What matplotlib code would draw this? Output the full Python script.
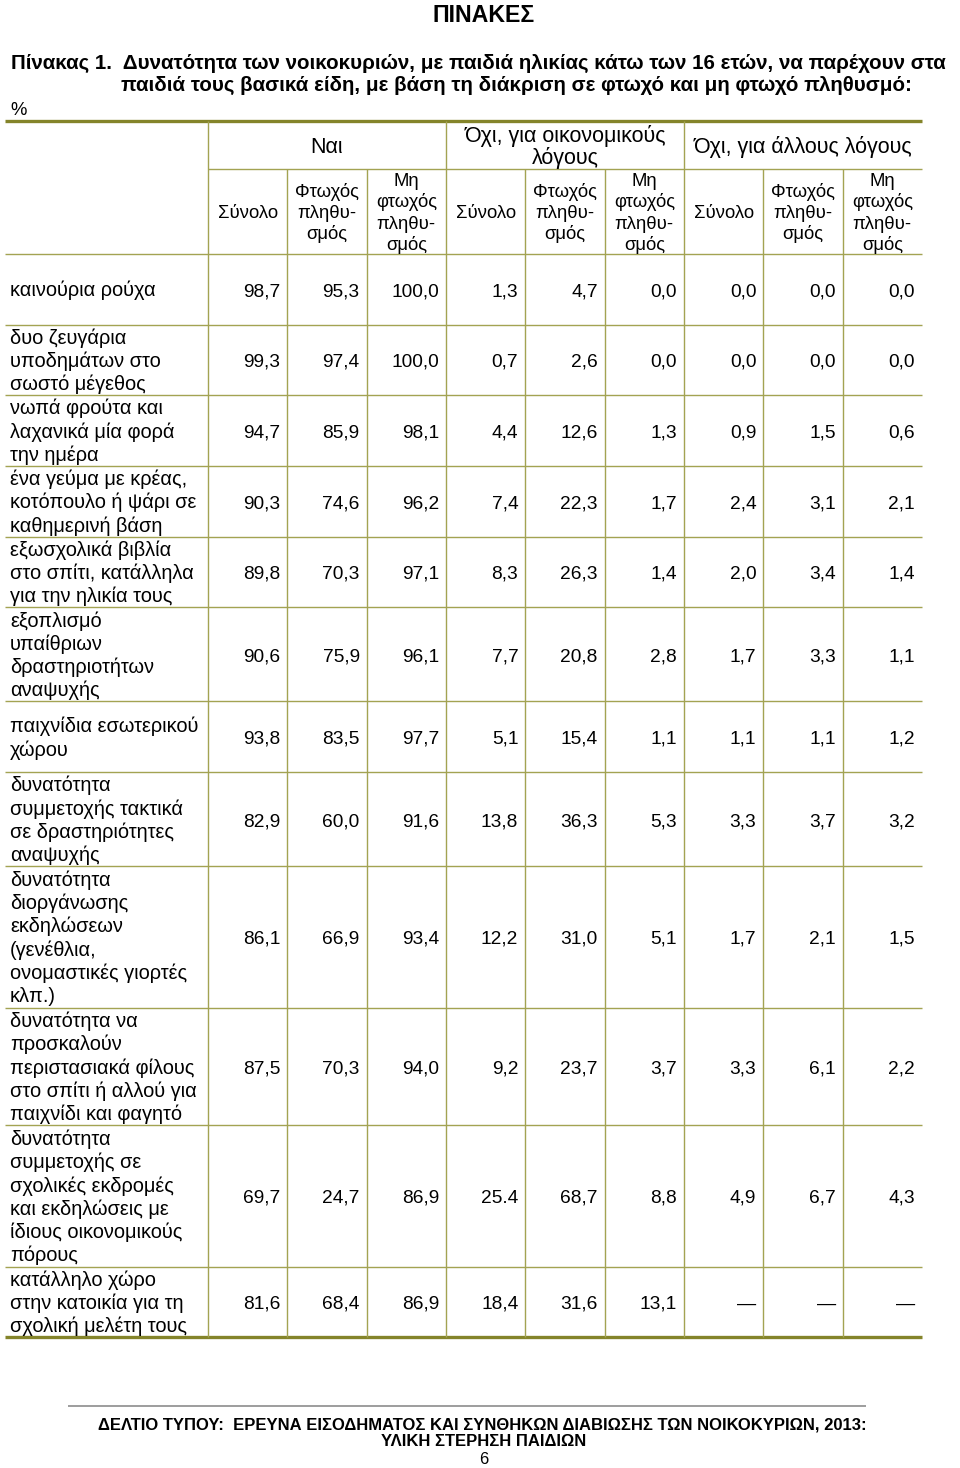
import matplotlib.pyplot as plt
from matplotlib import font_manager

plt.rcParams['font.family'] = ['Liberation Sans', 'DejaVu Sans']

page_title = 'ΠΙΝΑΚΕΣ'
table_title = ['Πίνακας 1.  Δυνατότητα των νοικοκυριών, με παιδιά ηλικίας κάτω των 16 ετών, να παρέχουν στα',
               'παιδιά τους βασικά είδη, με βάση τη διάκριση σε φτωχό και μη φτωχό πληθυσμό:']
unit = '%'
groups = ['Ναι', 'Όχι, για οικονομικούς\nλόγους', 'Όχι, για άλλους λόγους']
subcols = ['Σύνολο', 'Φτωχός\nπληθυ-\nσμός', 'Μη\nφτωχός\nπληθυ-\nσμός']

items = ['καινούρια ρούχα',
         'δυο ζευγάρια\nυποδημάτων στο\nσωστό μέγεθος',
         'νωπά φρούτα και\nλαχανικά μία φορά\nτην ημέρα',
         'ένα γεύμα με κρέας,\nκοτόπουλο ή ψάρι σε\nκαθημερινή βάση',
         'εξωσχολικά βιβλία\nστο σπίτι, κατάλληλα\nγια την ηλικία τους',
         'εξοπλισμό\nυπαίθριων\nδραστηριοτήτων\nαναψυχής',
         'παιχνίδια εσωτερικού\nχώρου',
         'δυνατότητα\nσυμμετοχής τακτικά\nσε δραστηριότητες\nαναψυχής',
         'δυνατότητα\nδιοργάνωσης\nεκδηλώσεων\n(γενέθλια,\nονομαστικές γιορτές\nκλπ.)',
         'δυνατότητα να\nπροσκαλούν\nπεριστασιακά φίλους\nστο σπίτι ή αλλού για\nπαιχνίδι και φαγητό',
         'δυνατότητα\nσυμμετοχής σε\nσχολικές εκδρομές\nκαι εκδηλώσεις με\nίδιους οικονομικούς\nπόρους',
         'κατάλληλο χώρο\nστην κατοικία για τη\nσχολική μελέτη τους']

yes_total = ['98,7', '99,3', '94,7', '90,3', '89,8', '90,6', '93,8', '82,9', '86,1', '87,5', '69,7', '81,6']
yes_poor = ['95,3', '97,4', '85,9', '74,6', '70,3', '75,9', '83,5', '60,0', '66,9', '70,3', '24,7', '68,4']
yes_nonpoor = ['100,0', '100,0', '98,1', '96,2', '97,1', '96,1', '97,7', '91,6', '93,4', '94,0', '86,9', '86,9']
econ_total = ['1,3', '0,7', '4,4', '7,4', '8,3', '7,7', '5,1', '13,8', '12,2', '9,2', '25.4', '18,4']
econ_poor = ['4,7', '2,6', '12,6', '22,3', '26,3', '20,8', '15,4', '36,3', '31,0', '23,7', '68,7', '31,6']
econ_nonpoor = ['0,0', '0,0', '1,3', '1,7', '1,4', '2,8', '1,1', '5,3', '5,1', '3,7', '8,8', '13,1']
other_total = ['0,0', '0,0', '0,9', '2,4', '2,0', '1,7', '1,1', '3,3', '1,7', '3,3', '4,9', '—']
other_poor = ['0,0', '0,0', '1,5', '3,1', '3,4', '3,3', '1,1', '3,7', '2,1', '6,1', '6,7', '—']
other_nonpoor = ['0,0', '0,0', '0,6', '2,1', '1,4', '1,1', '1,2', '3,2', '1,5', '2,2', '4,3', '—']

footer = ['ΔΕΛΤΙΟ ΤΥΠΟΥ:  ΕΡΕΥΝΑ ΕΙΣΟΔΗΜΑΤΟΣ ΚΑΙ ΣΥΝΘΗΚΩΝ ΔΙΑΒΙΩΣΗΣ ΤΩΝ ΝΟΙΚΟΚΥΡΙΩΝ, 2013:',
          'ΥΛΙΚΗ ΣΤΕΡΗΣΗ ΠΑΙΔΙΩΝ']
page_no = '6'

columns = [yes_total, yes_poor, yes_nonpoor, econ_total, econ_poor, econ_nonpoor,
           other_total, other_poor, other_nonpoor]

# narrow face for the footer if it exists
names = {f.name for f in font_manager.fontManager.ttflist}
narrow = 'Liberation Sans Narrow' if 'Liberation Sans Narrow' in names else 'Liberation Sans'
narrow_fam = [narrow, 'DejaVu Sans']

W, H = 960, 1468
fig = plt.figure(figsize=(W / 100, H / 100), dpi=100)
ax = fig.add_axes([0, 0, 1, 1])
ax.set_xlim(0, W)
ax.set_ylim(H, 0)
ax.axis('off')

fs_sub = 13.3    # sub-headers
fs_group = 15.5  # group headers
fs_label = 14.4  # row labels
fs_num = 13.8    # numbers
thick = '#84842a'
thin = '#a3a352'

left, right = 5, 922
edges = [208 + i * (right - 208) / 9 for i in range(10)]
top, group_bottom, head_bottom = 121, 169, 254
line_h = 23.55

rows = [head_bottom]
for lab in items:
    n = lab.count('\n') + 1
    rows.append(rows[-1] + max(n, 3) * line_h)


def lines_text(x, yc, text, step, fs, **kw):
    parts = text.split('\n')
    n = len(parts)
    em = fs * 100 / 72
    for i, s in enumerate(parts):
        y = yc + (i - (n - 1) / 2) * step + 0.358 * em
        ax.text(x, y, s, va='baseline', fontsize=fs, **kw)


# titles
ax.text(484, 22, page_title, ha='center', va='baseline', fontsize=16.7, fontweight='bold')
ax.text(11, 69, table_title[0], ha='left', va='baseline', fontsize=14.8, fontweight='bold')
ax.text(121, 91, table_title[1], ha='left', va='baseline', fontsize=14.8, fontweight='bold')
ax.text(10, 115, unit, ha='left', va='baseline', fontsize=fs_sub)

# grid
ax.hlines([top, rows[-1]], left, right, color=thick, lw=2.4)
ax.hlines(group_bottom, edges[0], right, color=thin, lw=1.0)
ax.hlines(rows[:-1], left, right, color=thin, lw=1.0)
for i, x in enumerate(edges[:-1]):
    y0 = top if i % 3 == 0 else group_bottom
    ax.vlines(x, y0, rows[-1], color=thin, lw=1.0)

# header
for g, name in enumerate(groups):
    xc = (edges[3 * g] + edges[3 * g + 3]) / 2
    lines_text(xc, (top + group_bottom) / 2, name, 22, fs_group, ha='center')
    for k, sub in enumerate(subcols):
        j = 3 * g + k
        lines_text((edges[j] + edges[j + 1]) / 2, (group_bottom + head_bottom) / 2, sub, 21.3,
                   fs_sub, ha='center')

# body
for r, lab in enumerate(items):
    yc = (rows[r] + rows[r + 1]) / 2
    lines_text(10, yc, lab, 23.3, fs_label, ha='left')
    for j, col in enumerate(columns):
        lines_text(edges[j + 1] - 7, yc, col[r], 0, fs_num, ha='right')

# footer
ax.hlines(1406, 68, 866, color='#8c8c8c', lw=1.2)
ax.text(482, 1429, footer[0], ha='center', va='baseline', fontsize=12,
        fontweight='bold', family=narrow_fam)
ax.text(484, 1446, footer[1], ha='center', va='baseline', fontsize=12,
        fontweight='bold', family=narrow_fam)
ax.text(484, 1464, page_no, ha='center', va='baseline', fontsize=12, family=narrow_fam)

fig.savefig('out.png', dpi=100)
